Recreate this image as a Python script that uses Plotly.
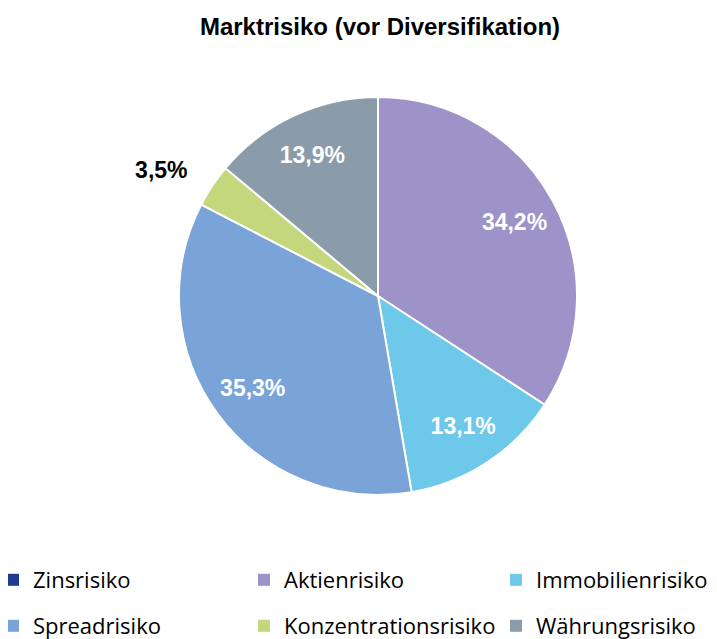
import plotly.graph_objects as go

W, H = 717, 639

labels = ["Zinsrisiko", "Aktienrisiko", "Immobilienrisiko", "Spreadrisiko",
          "Konzentrationsrisiko", "Währungsrisiko"]
values = [0.0, 34.2, 13.1, 35.3, 3.5, 13.9]
colors = ["#1F3A8F", "#9D93C8", "#6DC8EA", "#7AA3D7", "#C4D77D", "#8A9CA9"]
inside_text = ["", "34,2%", "13,1%", "35,3%", "", "13,9%"]
outside_text = ["", "", "", "", "3,5%", ""]


def px_x(p):
    return p / W


def px_y(p):
    return (H - p) / H


def dom(cx, cy, r):
    return dict(x=[px_x(cx - r), px_x(cx + r)], y=[px_y(cy + r), px_y(cy - r)])


# pie geometry (pixels; plotly renders this ~(+8, +6) px offset, landing at 378/294)
cx, cy, r = 370, 288, 199
r_out = 221  # radius of the invisible pie that carries the outside label

common = dict(labels=labels, values=values, sort=False, direction="clockwise",
              rotation=0, showlegend=False)
clear = ["rgba(0,0,0,0)"] * len(labels)

fig = go.Figure()
# the visible pie
fig.add_trace(go.Pie(
    **common,
    marker=dict(colors=colors, line=dict(color="white", width=2)),
    textinfo="none", hoverinfo="label+percent", domain=dom(cx, cy, r),
))
# inside labels (ring so labels sit near 78% of the radius, like the original)
fig.add_trace(go.Pie(
    **common, hole=0.56,
    marker=dict(colors=clear, line=dict(width=0)),
    text=inside_text, texttemplate="<b>%{text}</b>", textposition="inside",
    insidetextorientation="horizontal",
    insidetextfont=dict(family="Liberation Sans, Arial", size=23, color="white"),
    hoverinfo="skip", domain=dom(cx, cy, r),
))
# outside label of the small slice
fig.add_trace(go.Pie(
    **common,
    marker=dict(colors=clear, line=dict(width=0)),
    text=outside_text, texttemplate="<b>%{text}</b>", textposition="outside",
    outsidetextfont=dict(family="Liberation Sans, Arial", size=23, color="black"),
    hoverinfo="skip", domain=dom(cx, cy, r_out),
))

# legend positions: legend-box left edges / row centers in pixels
col_x = [-15, 236, 488]
row_y = [572, 618]

legend_layouts = {}
for i, (lab, col) in enumerate(zip(labels, colors)):
    lid = "legend" if i == 0 else f"legend{i + 1}"
    fig.add_trace(go.Scatter(
        x=[None], y=[None], mode="markers", name=lab,
        marker=dict(symbol="square", size=12, color=col),
        legend=lid,
    ))
    legend_layouts[lid] = dict(
        x=px_x(col_x[i % 3]), y=px_y(row_y[i // 3]),
        xanchor="left", yanchor="middle", orientation="h",
        font=dict(family="Open Sans", size=22, color="black"),
        bgcolor="rgba(0,0,0,0)", borderwidth=0,
        itemclick=False, itemdoubleclick=False,
    )

fig.update_layout(
    width=W, height=H,
    margin=dict(l=0, r=0, t=0, b=0, autoexpand=False),
    paper_bgcolor="white", plot_bgcolor="white",
    separators=",.",
    title=dict(text="<b>Marktrisiko (vor Diversifikation)</b>", x=372 / W, xanchor="center",
               y=1 - 19 / H, yanchor="middle",
               font=dict(family="Liberation Sans, Arial", size=24, color="black")),
    xaxis=dict(visible=False), yaxis=dict(visible=False),
    font=dict(family="Liberation Sans, Arial"),
    **legend_layouts,
)

fig.write_html("out.html")
